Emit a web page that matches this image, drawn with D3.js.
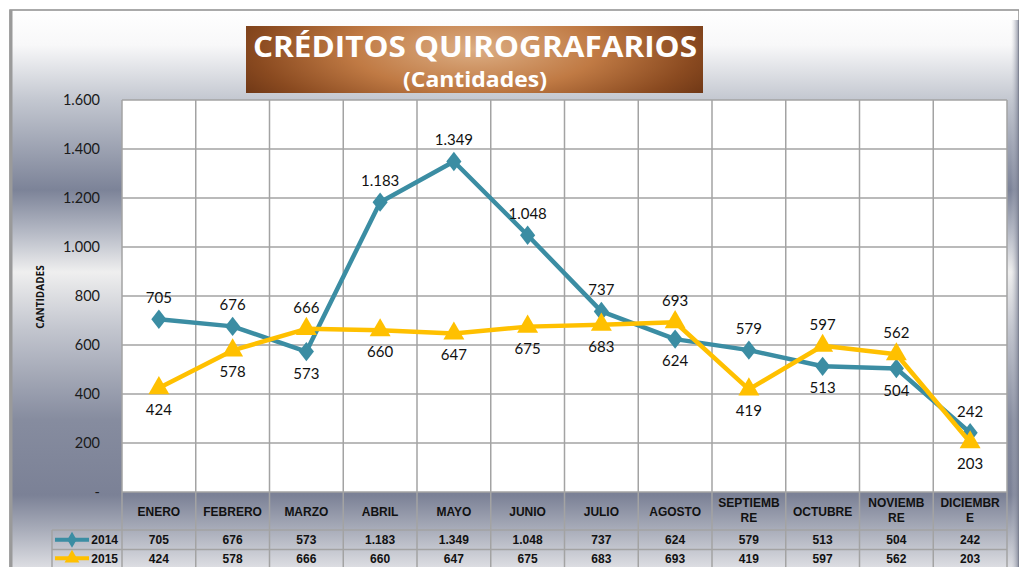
<!DOCTYPE html>
<html>
<head>
<meta charset="utf-8">
<script src="https://cdn.jsdelivr.net/npm/d3@7"></script>
<style>
  body { margin: 0; background: #fff; }
  svg { display: block; }
</style>
</head>
<body>
<div id="chart"></div>
<script>
// months + values
let months = ["ENERO", "FEBRERO", "MARZO", "ABRIL", "MAYO", "JUNIO", "JULIO", "AGOSTO", "SEPTIEMBRE", "OCTUBRE", "NOVIEMBRE", "DICIEMBRE"];
let headerLines = [["ENERO"], ["FEBRERO"], ["MARZO"], ["ABRIL"], ["MAYO"], ["JUNIO"], ["JULIO"], ["AGOSTO"], ["SEPTIEMB", "RE"], ["OCTUBRE"], ["NOVIEMB", "RE"], ["DICIEMBR", "E"]];
let values2014 = [705, 676, 573, 1183, 1349, 1048, 737, 624, 579, 513, 504, 242];
let values2015 = [424, 578, 666, 660, 647, 675, 683, 693, 419, 597, 562, 203];
let yTicks = [0, 200, 400, 600, 800, 1000, 1200, 1400, 1600];

let W = 1019, H = 567;
let plotL = 122, plotR = 1007, plotT = 100, plotB = 492;
let row1 = 530, row2 = 549.5, rowEnd = 569;

let teal = "#3b8da3";
let gold = "#ffc000";

let fmt = d3.formatLocale({decimal: ",", thousands: ".", grouping: [3], currency: ["", ""]}).format(",d");
function tickFmt(v) { return v === 0 ? "-" : fmt(v); }

let svg = d3.select("#chart")
  .append("svg")
  .attr("width", W)
  .attr("height", H);

let defs = svg.append("defs");

// metallic background
let bg = defs.append("linearGradient")
  .attr("id", "bg")
  .attr("gradientUnits", "userSpaceOnUse")
  .attr("x1", 0).attr("y1", 10).attr("x2", 0).attr("y2", 567);
[[10, "#ffffff"], [45, "#f8f8f9"], [100, "#c3c7d0"], [190, "#7c8398"], [235, "#b9bdc8"], [272, "#efefef"], [330, "#c2c5ce"], [420, "#868c9f"], [495, "#7b8196"], [530, "#a9adba"], [567, "#dcdde2"]]
  .forEach(s => bg.append("stop").attr("offset", (s[0] - 10) / 557).attr("stop-color", s[1]));

let edge = defs.append("linearGradient")
  .attr("id", "edge")
  .attr("x1", 0).attr("y1", 0).attr("x2", 1).attr("y2", 0);
edge.append("stop").attr("offset", 0).attr("stop-color", "#c8cbd4").attr("stop-opacity", 0);
edge.append("stop").attr("offset", 1).attr("stop-color", "#6f7589").attr("stop-opacity", 0.8);

let tg = defs.append("radialGradient")
  .attr("id", "titlebg")
  .attr("cx", 0.5).attr("cy", 0.35).attr("r", 0.6)
  .attr("gradientTransform", "translate(0.5,0.35) scale(1,2.2) translate(-0.5,-0.35)");
tg.append("stop").attr("offset", 0).attr("stop-color", "#dcae84");
tg.append("stop").attr("offset", 0.45).attr("stop-color", "#c07a44");
tg.append("stop").attr("offset", 0.8).attr("stop-color", "#8a4a20");
tg.append("stop").attr("offset", 1).attr("stop-color", "#6a3414");

svg.append("rect")
  .attr("x", 10).attr("y", 10)
  .attr("width", W - 10).attr("height", H)
  .attr("fill", "url(#bg)")
  .attr("stroke", "#8f8f8f")
  .attr("stroke-width", 1.5);

svg.append("rect")
  .attr("x", 1011).attr("y", 20)
  .attr("width", 8).attr("height", H)
  .attr("fill", "url(#edge)");

svg.append("line")
  .attr("x1", 11).attr("x2", 11).attr("y1", 10).attr("y2", H)
  .attr("stroke", "#9a9a9a").attr("stroke-width", 3);

// scales
let x = d3.scaleBand().domain(months).range([plotL, plotR]);
let y = d3.scaleLinear().domain([0, 1600]).range([plotB, plotT]);

// plot area
svg.append("rect")
  .attr("x", plotL).attr("y", plotT)
  .attr("width", plotR - plotL).attr("height", plotB - plotT)
  .attr("fill", "#fff");

let grid = svg.append("g").attr("stroke", "#a3a3a3").attr("stroke-width", 1.5);
grid.selectAll(".h")
  .data(yTicks.filter(d => d > 0))
  .enter().append("line")
  .attr("x1", plotL).attr("x2", plotR)
  .attr("y1", d => y(d)).attr("y2", d => y(d));
grid.selectAll(".v")
  .data(months.concat(["end"]))
  .enter().append("line")
  .attr("x1", (d, i) => plotL + i * x.bandwidth())
  .attr("x2", (d, i) => plotL + i * x.bandwidth())
  .attr("y1", plotT).attr("y2", rowEnd);

// table rows
grid.append("line").attr("x1", plotL).attr("x2", plotR).attr("y1", plotB).attr("y2", plotB);
grid.append("line").attr("x1", 52).attr("x2", plotR).attr("y1", row1).attr("y2", row1);
grid.append("line").attr("x1", 52).attr("x2", plotR).attr("y1", row2).attr("y2", row2);
grid.append("line").attr("x1", 52).attr("x2", 52).attr("y1", row1).attr("y2", rowEnd);

// y axis
let yAxis = svg.append("g")
  .attr("transform", "translate(" + (plotL - 22) + ",0)")
  .call(d3.axisLeft(y).tickValues(yTicks).tickFormat(tickFmt).tickSize(0).tickPadding(0));
yAxis.select(".domain").remove();
yAxis.selectAll("text")
  .attr("font-family", "Lato, 'Open Sans', sans-serif")
  .attr("font-size", 14.5)
  .attr("fill", "#1a1a1a");

svg.append("text")
  .attr("transform", "translate(44,297) rotate(-90)")
  .attr("text-anchor", "middle")
  .attr("font-family", "'Open Sans', sans-serif")
  .attr("font-weight", "bold")
  .attr("font-size", 10)
  .attr("fill", "#111")
  .text("CANTIDADES");

// title box
svg.append("rect")
  .attr("x", 246).attr("y", 26)
  .attr("width", 457).attr("height", 67)
  .attr("fill", "url(#titlebg)");
svg.append("text")
  .attr("x", 475).attr("y", 57)
  .attr("text-anchor", "middle")
  .attr("font-family", "'Open Sans', sans-serif")
  .attr("font-weight", "bold")
  .attr("font-size", 28)
  .attr("textLength", 444)
  .attr("lengthAdjust", "spacingAndGlyphs")
  .attr("fill", "#fff")
  .text("CRÉDITOS QUIROGRAFARIOS");
svg.append("text")
  .attr("x", 475).attr("y", 87)
  .attr("text-anchor", "middle")
  .attr("font-family", "'Open Sans', sans-serif")
  .attr("font-weight", "bold")
  .attr("font-size", 22)
  .attr("textLength", 144)
  .attr("lengthAdjust", "spacingAndGlyphs")
  .attr("fill", "#fff")
  .text("(Cantidades)");

// series
let series = [
  {name: "2014", values: values2014, other: values2015, color: teal, shape: d3.symbolDiamond, size: 150},
  {name: "2015", values: values2015, other: values2014, color: gold, shape: d3.symbolTriangle, size: 190}
];

let line = d3.line()
  .x((d, i) => x(months[i]) + x.bandwidth() / 2)
  .y(d => y(d));

series.forEach(function(s) {
  svg.append("path")
    .attr("d", line(s.values))
    .attr("fill", "none")
    .attr("stroke", s.color)
    .attr("stroke-width", 4.5)
    .attr("stroke-linejoin", "round");

  svg.selectAll(null)
    .data(s.values)
    .enter().append("path")
    .attr("d", d3.symbol().type(s.shape).size(s.size))
    .attr("transform", (d, i) => "translate(" + (x(months[i]) + x.bandwidth() / 2) + "," + y(d) + ")" + (s.shape === d3.symbolDiamond ? " scale(1.15,0.85)" : ""))
    .attr("fill", s.color);
});

// labels go above if this series is higher at that month, below otherwise
series.forEach(function(s) {
  svg.selectAll(null)
    .data(s.values)
    .enter().append("text")
    .attr("x", (d, i) => x(months[i]) + x.bandwidth() / 2)
    .attr("y", (d, i) => d > s.other[i] ? y(d) - 16 : y(d) + 27)
    .attr("text-anchor", "middle")
    .attr("font-family", "Lato, 'Open Sans', sans-serif")
    .attr("font-size", 15)
    .attr("fill", "#111")
    .text(d => fmt(d));
});

// data table
let tfont = "'Liberation Sans', Arial, sans-serif";
headerLines.forEach(function(lines, i) {
  let cx = x(months[i]) + x.bandwidth() / 2;
  let t = svg.append("text")
    .attr("text-anchor", "middle")
    .attr("font-family", tfont)
    .attr("font-weight", "bold")
    .attr("font-size", 12)
    .attr("fill", "#111");
  lines.forEach(function(l, j) {
    t.append("tspan")
      .attr("x", cx)
      .attr("y", lines.length === 1 ? 516 : 507 + j * 15)
      .text(l);
  });
});

series.forEach(function(s, k) {
  let rowMid = k === 0 ? (row1 + row2) / 2 : (row2 + rowEnd) / 2 - 1;
  svg.selectAll(null)
    .data(s.values)
    .enter().append("text")
    .attr("x", (d, i) => x(months[i]) + x.bandwidth() / 2)
    .attr("y", rowMid + 4.5)
    .attr("text-anchor", "middle")
    .attr("font-family", tfont)
    .attr("font-weight", "bold")
    .attr("font-size", 12)
    .attr("fill", "#111")
    .text(d => fmt(d));

  // legend key
  svg.append("line")
    .attr("x1", 55).attr("x2", 89)
    .attr("y1", rowMid).attr("y2", rowMid)
    .attr("stroke", s.color).attr("stroke-width", 4);
  svg.append("path")
    .attr("d", d3.symbol().type(s.shape).size(s.size * 0.5))
    .attr("transform", "translate(72," + rowMid + ")")
    .attr("fill", s.color);
  svg.append("text")
    .attr("x", 118).attr("y", rowMid + 4.5)
    .attr("text-anchor", "end")
    .attr("font-family", tfont)
    .attr("font-weight", "bold")
    .attr("font-size", 12)
    .attr("fill", "#111")
    .text(s.name);
});
</script>
</body>
</html>
